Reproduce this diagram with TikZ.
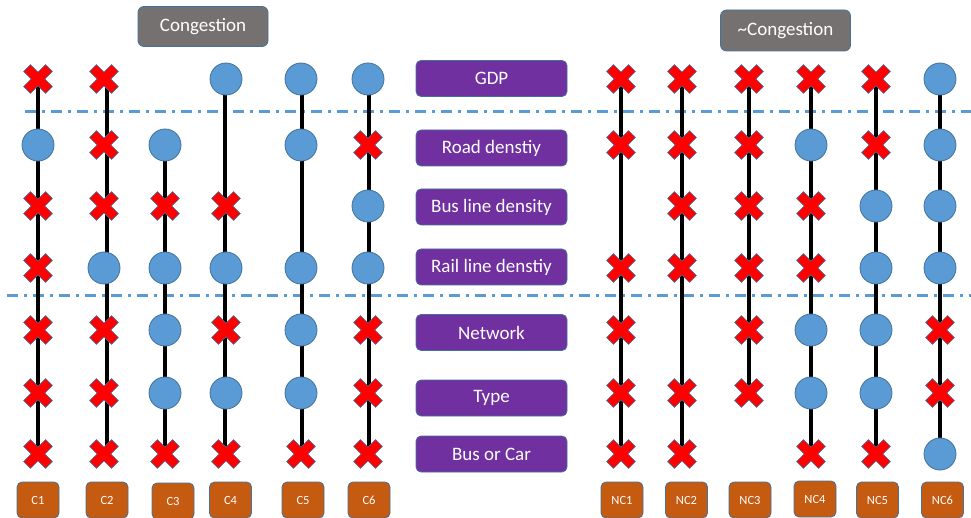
\documentclass[tikz,border=0pt]{standalone}
\usepackage{fontspec}
\setmainfont{Carlito}
\definecolor{edgeblue}{HTML}{41719C}
\definecolor{dotblue}{HTML}{5B9BD5}
\definecolor{labelpurple}{HTML}{7030A0}
\definecolor{headgray}{HTML}{767171}
\definecolor{caseorange}{HTML}{C55A11}
\begin{document}
\begin{tikzpicture}[x=1pt,y=-1pt,
  labelbox/.style={draw=edgeblue, line width=0.8pt, fill=labelpurple, rounded corners=5pt,
    text=white, font=\fontsize{19}{22}\selectfont, minimum width=151pt, minimum height=36pt, inner sep=0pt},
  headbox/.style={draw=edgeblue, line width=0.8pt, fill=headgray, rounded corners=6pt,
    text=white, font=\fontsize{19}{22}\selectfont, minimum width=130pt, minimum height=40pt, inner sep=0pt},
  casebox/.style={draw=edgeblue, line width=0.8pt, fill=caseorange, rounded corners=5pt,
    text=white, font=\fontsize{12.5}{14}\selectfont, minimum width=42pt, minimum height=36pt, inner sep=0pt},
  stem/.style={line width=3.5pt, black},
  split/.style={draw=dotblue, line width=3pt, dash pattern=on 11pt off 6pt on 3pt off 6pt},
  hit/.style={circle, draw=edgeblue, line width=0.8pt, fill=dotblue, minimum size=32pt, inner sep=0pt},
  mark-n/.pic={},
  mark-o/.pic={\node[hit] (-dot) {};},
  mark-x/.pic={\filldraw[fill=red, draw=edgeblue, line width=0.6pt, rotate=45]
    (4.8,15.5) -- (4.8,4.8) -- (15.5,4.8) -- (15.5,-4.8) -- (4.8,-4.8) -- (4.8,-15.5)
    -- (-4.8,-15.5) -- (-4.8,-4.8) -- (-15.5,-4.8) -- (-15.5,4.8) -- (-4.8,4.8) -- (-4.8,15.5) -- cycle;}
]
\useasboundingbox (0,0) rectangle (971,518);

% group headers
\node[headbox] (cong) at (203,26.5) {Congestion};
\node[headbox, minimum height=41pt] (ncong) at (785.5,30.5) {\textasciitilde Congestion};

% separators between the variable groups
\coordinate (sepA-l) at (25,112);  \coordinate (sepA-r) at (971,112);
\coordinate (sepB-l) at (7,296);   \coordinate (sepB-r) at (971,296);
\draw[split] (sepA-l) -- (sepA-r);
\draw[split] (sepB-l) -- (sepB-r);

% variable labels
\node[labelbox] (gdp)  at (491.5,78.5) {GDP};
\node[labelbox] (road) at (491.5,148)  {Road denstiy};
\node[labelbox] (bus)  at (491.5,207)  {Bus line density};
\node[labelbox] (rail) at (491.5,267)  {Rail line denstiy};
\node[labelbox] (net)  at (491.5,332.5){Network};
\node[labelbox] (type) at (491.5,398)  {Type};
\node[labelbox] (boc)  at (491.5,454)  {Bus or Car};

% case columns: name / marker x / stem x / first row / last row / one mark per row
% (x = absent, o = present, n = not shown)
\foreach \cn/\mx/\sx/\ta/\tb/\ma/\mb/\mc/\md/\me/\mf/\mg in {
  C1/38/38/1/7/x/o/x/x/x/x/x,
  C2/104/107/1/7/x/x/x/o/x/x/x,
  C3/165/165/2/7/n/o/x/o/o/o/x,
  C4/226/225/1/7/o/n/x/o/x/o/x,
  C5/301/302/1/7/o/o/n/o/o/o/x,
  C6/368/369/1/7/o/x/o/o/x/x/x,
  NC1/621/621/1/7/x/x/n/x/x/x/x,
  NC2/682/682/1/7/x/x/x/x/n/x/x,
  NC3/749/749/1/6/x/x/x/x/x/x/n,
  NC4/811/811/1/7/x/o/x/x/o/o/x,
  NC5/876/876/1/7/x/x/o/o/o/o/x,
  NC6/940/940/1/7/o/o/o/o/x/x/o%
}{
  \pgfmathsetmacro\ya{{79,145,206,268,330,393,454}[\ta-1]}
  \pgfmathsetmacro\yb{{79,145,206,268,330,393,454}[\tb-1]}
  \coordinate (\cn-top) at (\sx,\ya);
  \coordinate (\cn-end) at (\sx,\yb);
  \draw[stem] (\cn-top) -- (\cn-end);
  \foreach \m [count=\r] in {\ma,\mb,\mc,\md,\me,\mf,\mg} {
    \pgfmathsetmacro\ry{{79,145,206,268,330,393,454}[\r-1]}
    \pic (\cn-\r) at (\mx,\ry) {mark-\m};
  }
}

% case labels
\node[casebox] (c1) at (38,500)  {C1};
\node[casebox] (c2) at (107,500) {C2};
\node[casebox] (c3) at (173,501) {C3};
\node[casebox] (c4) at (230.5,500) {C4};
\node[casebox] (c5) at (303,500) {C5};
\node[casebox] (c6) at (369,500) {C6};
\node[casebox] (nc1) at (622,500) {NC1};
\node[casebox] (nc2) at (686.5,500) {NC2};
\node[casebox] (nc3) at (750,500) {NC3};
\node[casebox] (nc4) at (815,499) {NC4};
\node[casebox] (nc5) at (877.5,500) {NC5};
\node[casebox] (nc6) at (942.5,500) {NC6};
\end{tikzpicture}
\end{document}
